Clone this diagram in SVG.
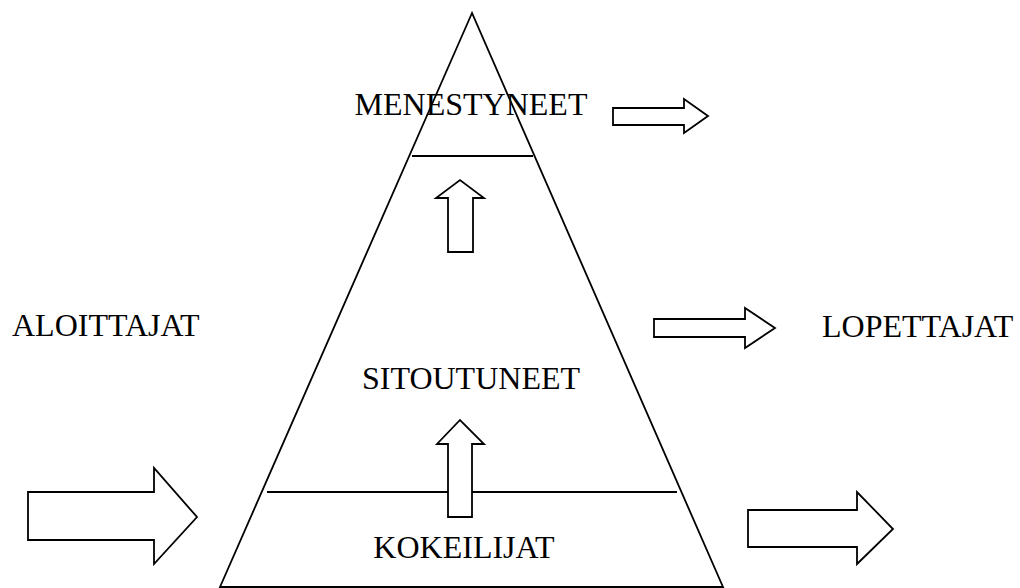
<svg xmlns="http://www.w3.org/2000/svg" width="1020" height="588" viewBox="0 0 1020 588">
<style>
.s{fill:#fff;stroke:#000;stroke-width:1.8;stroke-linejoin:miter}
.l{fill:none;stroke:#000;stroke-width:1.8}
.t{font-family:"Liberation Serif","Times New Roman",serif;font-size:32px;fill:#000}
</style>
<rect width="1020" height="588" fill="#fff"/>
<g id="pyramid">
<polygon class="l" points="472,13 220,587 723,587"/>
<line class="l" x1="412" y1="156" x2="533" y2="156"/>
<line class="l" x1="267" y1="492" x2="677" y2="492"/>
</g>
<g id="connectors">
<polygon class="s" points="448,252 448,198 436,198 460,180 484,198 473,198 473,252"/>
<polygon class="s" points="448,517 448,444 437,444 460,420 484,444 472,444 472,517"/>
<polygon class="s" points="613,108 684,108 684,99 708,116 684,133 684,125 613,125"/>
<polygon class="s" points="654,319 745,319 745,308 775,328 745,348 745,337 654,337"/>
<polygon class="s" points="28,492 154,492 154,468 197,517 154,564 154,540 28,540"/>
<polygon class="s" points="748,510 857,510 857,492 893,529 857,564 857,547 748,547"/>
</g>
<g id="menestyneet"><text class="t" x="471" y="115" text-anchor="middle">MENESTYNEET</text></g>
<g id="sitoutuneet"><text class="t" x="471" y="389" text-anchor="middle">SITOUTUNEET</text></g>
<g id="kokeilijat"><text class="t" x="464" y="558" text-anchor="middle">KOKEILIJAT</text></g>
<g id="aloittajat"><text class="t" x="12" y="336">ALOITTAJAT</text></g>
<g id="lopettajat"><text class="t" x="822" y="337">LOPETTAJAT</text></g>
</svg>
